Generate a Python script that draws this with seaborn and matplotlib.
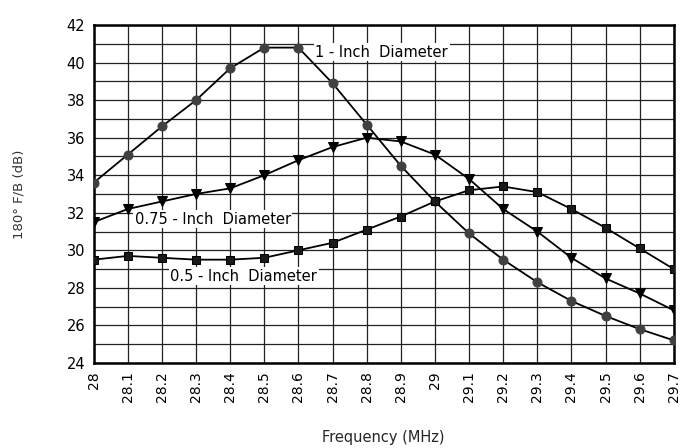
import numpy as np
import pandas as pd
import matplotlib
matplotlib.use('Agg')
import matplotlib.pyplot as plt
import seaborn as sns

# Data
freq = [28.0, 28.1, 28.2, 28.3, 28.4, 28.5, 28.6, 28.7, 28.8, 28.9,
        29.0, 29.1, 29.2, 29.3, 29.4, 29.5, 29.6, 29.7]
fb_1in = [33.6, 35.1, 36.6, 38.0, 39.7, 40.8, 40.8, 38.9, 36.7, 34.5,
          32.6, 30.9, 29.5, 28.3, 27.3, 26.5, 25.8, 25.2]
fb_075in = [31.5, 32.2, 32.6, 33.0, 33.3, 34.0, 34.8, 35.5, 36.0, 35.8,
            35.1, 33.8, 32.2, 31.0, 29.6, 28.5, 27.7, 26.8]
fb_05in = [29.5, 29.7, 29.6, 29.5, 29.5, 29.6, 30.0, 30.4, 31.1, 31.8,
           32.6, 33.2, 33.4, 33.1, 32.2, 31.2, 30.1, 29.0]
tick_labels = ['28', '28.1', '28.2', '28.3', '28.4', '28.5', '28.6', '28.7', '28.8',
               '28.9', '29', '29.1', '29.2', '29.3', '29.4', '29.5', '29.6', '29.7']

sns.set_style('white')
plt.rcParams['font.family'] = ['DejaVu Sans']
plt.rcParams['text.color'] = 'black'
plt.rcParams['xtick.color'] = 'black'
plt.rcParams['ytick.color'] = 'black'

fig = plt.figure(figsize=(6.84, 4.48), dpi=100)
ax = fig.add_axes([0.137, 0.19, 0.848, 0.754])

sns.lineplot(x=freq, y=fb_1in, ax=ax, color='black', lw=1.3, marker='o',
             markersize=6.5, markerfacecolor='#404040', markeredgecolor='#404040', zorder=3)
sns.lineplot(x=freq, y=fb_075in, ax=ax, color='black', lw=1.3, marker='v',
             markersize=6.5, markerfacecolor='black', markeredgecolor='black', zorder=3)
sns.lineplot(x=freq, y=fb_05in, ax=ax, color='black', lw=1.3, marker='s',
             markersize=5.5, markerfacecolor='#1a1a1a', markeredgecolor='black', zorder=3)

ax.set_xlim(28.0, 29.7)
ax.set_ylim(24, 42)
ax.set_xticks(freq)
ax.set_xticklabels(tick_labels, rotation=90, va='top', fontsize=10)
ax.set_yticks(np.arange(24, 43, 2))
ax.tick_params(axis='y', labelsize=10.5, length=0, pad=6)
ax.tick_params(axis='x', length=0, pad=6)
ax.set_yticks(np.arange(24, 43, 1), minor=True)
ax.tick_params(axis='y', which='minor', length=0)
ax.grid(True, which='both', color='#222222', lw=0.9)
ax.set_axisbelow(True)
for s in ax.spines.values():
    s.set_color('black')
    s.set_linewidth(1.8)

box = dict(facecolor='white', edgecolor='none', pad=1)
ax.text(28.65, 40.56, '1 - Inch  Diameter', fontsize=10.5, va='center', ha='left', bbox=box, zorder=4)
ax.text(28.12, 31.65, '0.75 - Inch  Diameter', fontsize=10.5, va='center', ha='left', bbox=box, zorder=4)
ax.text(28.225, 28.62, '0.5 - Inch  Diameter', fontsize=10.5, va='center', ha='left', bbox=box, zorder=4)

ax.set_xlabel('Frequency (MHz)', fontsize=10.5, labelpad=20)
ax.set_ylabel('180° F/B (dB)', fontsize=9.5, color='#333333', labelpad=30)

fig.savefig('out.png', dpi=100)
